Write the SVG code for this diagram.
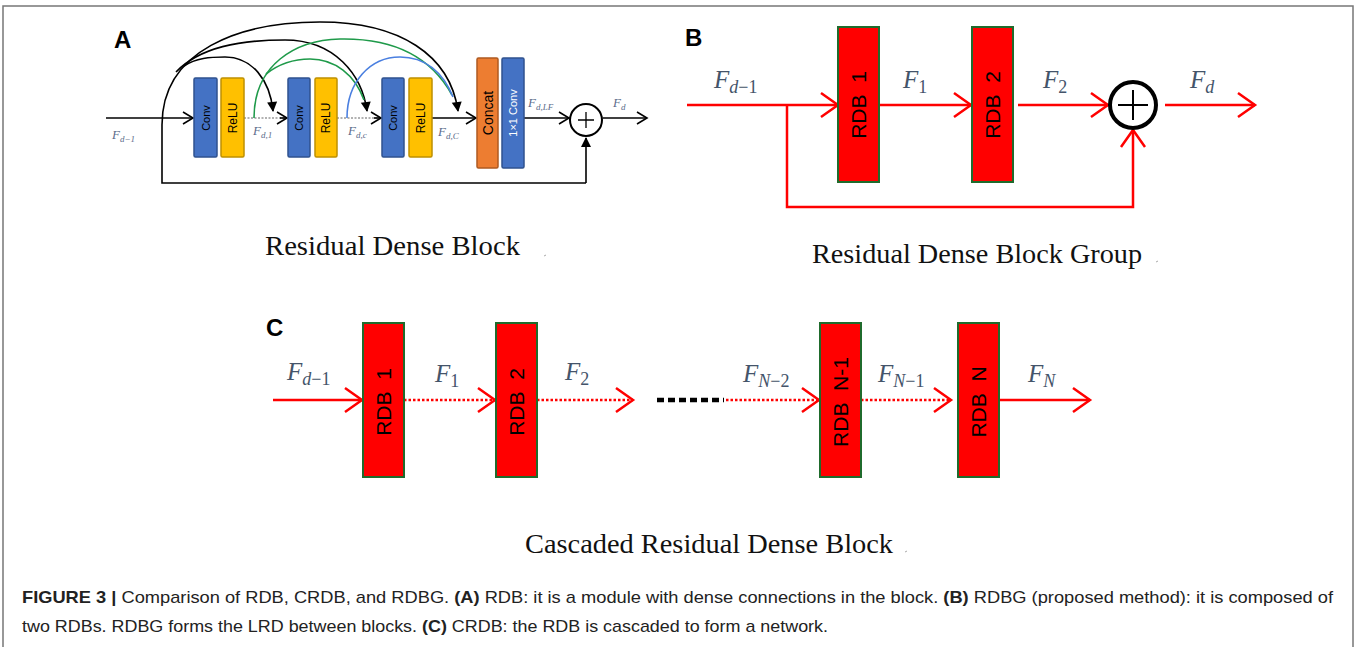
<svg xmlns="http://www.w3.org/2000/svg" width="1356" height="647" viewBox="0 0 1356 647">
<style>
.lbl{font-family:"Liberation Sans",Arial,sans-serif;font-weight:bold;font-size:24px;fill:#000}
.cap{font-family:"Liberation Serif","Times New Roman",serif;font-size:28px;fill:#111}
.m{font-family:"Liberation Serif","DejaVu Serif",serif;font-style:italic;fill:#44546A}
.ma{font-family:"Liberation Serif","DejaVu Serif",serif;font-style:italic;fill:#5b6b8a;font-size:13px}
.bx{font-family:"Liberation Sans",Arial,sans-serif;fill:#000}
.rdb{fill:#ff0000;stroke:#1f6b2c;stroke-width:2}
.rdbt{font-family:"Liberation Sans",Arial,sans-serif;font-size:21px;fill:#000;white-space:pre}
.conv{fill:#4472c4;stroke:#2f528f;stroke-width:1.5}
.relu{fill:#ffc000;stroke:#bf9000;stroke-width:1.5}
.concat{fill:#ed7d31;stroke:#ae5a21;stroke-width:1.5}
.k{fill:none;stroke:#000;stroke-width:1.6}
.red{fill:none;stroke:#ff0000;stroke-width:2.5}
.reddot{fill:none;stroke:#ff0000;stroke-width:2.5;stroke-dasharray:2.5 2}
.fc{font-family:"Liberation Sans",Arial,sans-serif;font-size:17px;fill:#222}
</style>
<defs>
<marker id="openK" markerUnits="userSpaceOnUse" markerWidth="12" markerHeight="14" refX="10" refY="6" orient="auto" overflow="visible">
<path d="M0,0 L10,6 L0,12" fill="none" stroke="#000" stroke-width="1.6"/>
</marker>
<marker id="triK" markerUnits="userSpaceOnUse" markerWidth="10" markerHeight="10" refX="9" refY="5" orient="auto" overflow="visible">
<path d="M0,0 L10,5 L0,10 Z" fill="#000"/>
</marker>
<marker id="openR" markerUnits="userSpaceOnUse" markerWidth="20" markerHeight="26" refX="17" refY="12" orient="auto" overflow="visible">
<path d="M0,0 L17,12 L0,24" fill="none" stroke="#ff0000" stroke-width="2.5"/>
</marker>
</defs>
<rect width="1356" height="647" fill="#fff"/>
<path d="M3,647 L3,6 L1353,6 L1353,647" fill="none" stroke="#777" stroke-width="1.5"/>

<!-- Panel labels -->
<text class="lbl" x="114" y="48">A</text>
<text class="lbl" x="685" y="46">B</text>
<text class="lbl" x="266" y="336">C</text>

<!-- Connectors -->
<g id="connectors">
<!-- Panel A -->
<line class="k" x1="106" y1="118" x2="193" y2="118" marker-end="url(#openK)"/>
<line x1="244" y1="118" x2="287" y2="118" stroke="#999" stroke-width="1.6" stroke-dasharray="2 1.5"/>
<line class="k" x1="280" y1="118" x2="287" y2="118" marker-end="url(#openK)"/>
<line x1="337" y1="118" x2="381" y2="118" stroke="#999" stroke-width="1.6" stroke-dasharray="2 1.5"/>
<line class="k" x1="374" y1="118" x2="381" y2="118" marker-end="url(#openK)"/>
<line class="k" x1="432" y1="118" x2="476" y2="118" marker-end="url(#openK)"/>
<line class="k" x1="524" y1="118" x2="569" y2="118" marker-end="url(#openK)"/>
<line class="k" x1="603" y1="118" x2="647" y2="118" marker-end="url(#openK)"/>
<path class="k" d="M586,183 L162,183 L162,125 C162,50 240,22 320,22 C400,22 450,55 458,111" marker-end="url(#triK)"/>
<path class="k" d="M586,183 L586,138" marker-end="url(#triK)"/>
<path class="k" d="M176,72 C200,47 240,40 285,40 C335,40 362,75 367,111" marker-end="url(#triK)"/>
<path class="k" d="M184,66 C196,58 210,57 225,57 C252,57 270,80 273,111" marker-end="url(#triK)"/>
<path fill="none" stroke="#1f9a4a" stroke-width="1.6" d="M254,118 C254,65 295,40 340,39 C390,38 430,55 452,95"/>
<path fill="none" stroke="#1f9a4a" stroke-width="1.6" d="M266,74 C280,63 295,59 310,59 C335,59 355,75 364,100"/>
<path fill="none" stroke="#4a7fe0" stroke-width="1.6" d="M347,118 C347,82 370,57 400,57 C425,57 443,72 453,97"/>

<!-- Panel B -->
<line class="red" x1="687" y1="105" x2="838" y2="105" marker-end="url(#openR)"/>
<line class="red" x1="879" y1="105" x2="971" y2="105" marker-end="url(#openR)"/>
<line class="red" x1="1018" y1="105" x2="1108" y2="105" marker-end="url(#openR)"/>
<line class="red" x1="1165" y1="105" x2="1255" y2="105" marker-end="url(#openR)"/>
<path class="red" d="M787,105 L787,207 L1133,207 L1133,130" marker-end="url(#openR)"/>

<!-- Panel C -->
<line class="red" x1="273" y1="400" x2="362" y2="400" marker-end="url(#openR)"/>
<line class="reddot" x1="404" y1="400" x2="495" y2="400" marker-end="url(#openR)"/>
<line class="reddot" x1="537" y1="400" x2="633" y2="400" marker-end="url(#openR)"/>
<line x1="657" y1="400" x2="724" y2="400" stroke="#000" stroke-width="4.5" stroke-dasharray="7 4"/>
<line class="reddot" x1="726" y1="400" x2="819" y2="400" marker-end="url(#openR)"/>
<line class="reddot" x1="861" y1="400" x2="951" y2="400" marker-end="url(#openR)"/>
<line class="red" x1="999" y1="400" x2="1090" y2="400" marker-end="url(#openR)"/>
</g>

<!-- Panel A nodes -->
<g id="a-conv1"><rect class="conv" x="194" y="78" width="23" height="79" rx="1.5"/><text class="bx" font-size="11" text-anchor="middle" dominant-baseline="central" transform="translate(205.5,118) rotate(-90)">Conv</text></g>
<g id="a-relu1"><rect class="relu" x="221" y="78" width="23" height="79" rx="1.5"/><text class="bx" font-size="12" text-anchor="middle" dominant-baseline="central" transform="translate(232.5,118) rotate(-90)">ReLU</text></g>
<g id="a-conv2"><rect class="conv" x="288" y="78" width="22" height="79" rx="1.5"/><text class="bx" font-size="11" text-anchor="middle" dominant-baseline="central" transform="translate(299,118) rotate(-90)">Conv</text></g>
<g id="a-relu2"><rect class="relu" x="315" y="78" width="22" height="79" rx="1.5"/><text class="bx" font-size="12" text-anchor="middle" dominant-baseline="central" transform="translate(326,118) rotate(-90)">ReLU</text></g>
<g id="a-conv3"><rect class="conv" x="382" y="78" width="22" height="79" rx="1.5"/><text class="bx" font-size="11" text-anchor="middle" dominant-baseline="central" transform="translate(393,118) rotate(-90)">Conv</text></g>
<g id="a-relu3"><rect class="relu" x="409" y="78" width="23" height="79" rx="1.5"/><text class="bx" font-size="12" text-anchor="middle" dominant-baseline="central" transform="translate(420.5,118) rotate(-90)">ReLU</text></g>
<g id="a-concat"><rect class="concat" x="477" y="58" width="21" height="110" rx="1.5"/><text class="bx" font-size="14" text-anchor="middle" dominant-baseline="central" transform="translate(487.5,113) rotate(-90)">Concat</text></g>
<g id="a-conv1x1"><rect class="conv" x="502" y="58" width="22" height="110" rx="1.5"/><text class="bx" font-size="11" style="fill:#fff" text-anchor="middle" dominant-baseline="central" transform="translate(513,113) rotate(-90)">1×1 Conv</text></g>
<g id="a-sum"><circle cx="586" cy="120" r="16" fill="#fff" stroke="#000" stroke-width="2"/><path d="M578,120 H594 M586,112 V128" stroke="#000" stroke-width="1.3"/></g>
<g id="a-labels">
<text class="ma" x="112" y="139">F<tspan font-size="9" dy="2.5">d−1</tspan></text>
<text class="ma" x="253" y="135">F<tspan font-size="9" dy="2.5">d,1</tspan></text>
<text class="ma" x="348" y="135">F<tspan font-size="9" dy="2.5">d,c</tspan></text>
<text class="ma" x="438" y="136">F<tspan font-size="9" dy="2.5">d,C</tspan></text>
<text class="ma" x="528" y="107">F<tspan font-size="9" dy="2.5">d,LF</tspan></text>
<text class="ma" x="613" y="107">F<tspan font-size="9" dy="2.5">d</tspan></text>
</g>
<g id="a-caption"><text class="cap" x="265" y="255" textLength="255" lengthAdjust="spacingAndGlyphs">Residual Dense Block</text><path d="M544,256 l2,-1" stroke="#aaa" stroke-width="1"/></g>

<!-- Panel B nodes -->
<g id="b-rdb1"><rect class="rdb" x="838" y="27" width="41" height="155"/><text class="rdbt" text-anchor="middle" dominant-baseline="central" transform="translate(858.5,105) rotate(-90)">RDB  1</text></g>
<g id="b-rdb2"><rect class="rdb" x="972" y="27" width="41" height="155"/><text class="rdbt" text-anchor="middle" dominant-baseline="central" transform="translate(992.5,105) rotate(-90)">RDB  2</text></g>
<g id="b-sum"><circle cx="1133" cy="105" r="23" fill="#fff" stroke="#000" stroke-width="4"/><path d="M1118,105 H1148 M1133,90 V120" stroke="#000" stroke-width="2"/></g>
<g id="b-labels">
<text class="m" font-size="25" x="714" y="88">F<tspan font-size="18" dy="5">d</tspan><tspan font-size="18" font-style="normal">−1</tspan></text>
<text class="m" font-size="25" x="903" y="88">F<tspan font-size="18" dy="5" font-style="normal">1</tspan></text>
<text class="m" font-size="25" x="1043" y="88">F<tspan font-size="18" dy="5" font-style="normal">2</tspan></text>
<text class="m" font-size="25" x="1190" y="88">F<tspan font-size="18" dy="5">d</tspan></text>
</g>
<g id="b-caption"><text class="cap" x="812" y="263" textLength="330" lengthAdjust="spacingAndGlyphs">Residual Dense Block Group</text><path d="M1156,262 l2,-1" stroke="#aaa" stroke-width="1"/></g>

<!-- Panel C nodes -->
<g id="c-rdb1"><rect class="rdb" x="363" y="323" width="41" height="154"/><text class="rdbt" text-anchor="middle" dominant-baseline="central" transform="translate(383.5,402) rotate(-90)">RDB  1</text></g>
<g id="c-rdb2"><rect class="rdb" x="496" y="323" width="41" height="154"/><text class="rdbt" text-anchor="middle" dominant-baseline="central" transform="translate(516.5,402) rotate(-90)">RDB  2</text></g>
<g id="c-rdbn1"><rect class="rdb" x="820" y="323" width="41" height="154"/><text class="rdbt" text-anchor="middle" dominant-baseline="central" transform="translate(840.5,402) rotate(-90)">RDB  N-1</text></g>
<g id="c-rdbn"><rect class="rdb" x="958" y="323" width="41" height="154"/><text class="rdbt" text-anchor="middle" dominant-baseline="central" transform="translate(978.5,402) rotate(-90)">RDB  N</text></g>
<g id="c-labels">
<text class="m" font-size="25" x="287" y="380">F<tspan font-size="18" dy="5">d</tspan><tspan font-size="18" font-style="normal">−1</tspan></text>
<text class="m" font-size="25" x="435" y="382">F<tspan font-size="18" dy="5" font-style="normal">1</tspan></text>
<text class="m" font-size="25" x="565" y="380">F<tspan font-size="18" dy="5" font-style="normal">2</tspan></text>
<text class="m" font-size="25" x="743" y="382">F<tspan font-size="18" dy="5">N</tspan><tspan font-size="18" font-style="normal">−2</tspan></text>
<text class="m" font-size="25" x="878" y="382">F<tspan font-size="18" dy="5">N</tspan><tspan font-size="18" font-style="normal">−1</tspan></text>
<text class="m" font-size="25" x="1028" y="382">F<tspan font-size="18" dy="5">N</tspan></text>
</g>
<g id="c-caption"><text class="cap" x="525" y="553" textLength="368" lengthAdjust="spacingAndGlyphs">Cascaded Residual Dense Block</text><path d="M905,552 l2,-1" stroke="#aaa" stroke-width="1"/></g>

<!-- Figure caption -->
<g id="figure-caption">
<text class="fc" x="22" y="603" textLength="1311" lengthAdjust="spacingAndGlyphs"><tspan font-weight="bold">FIGURE 3 |</tspan> Comparison of RDB, CRDB, and RDBG. <tspan font-weight="bold">(A)</tspan> RDB: it is a module with dense connections in the block. <tspan font-weight="bold">(B)</tspan> RDBG (proposed method): it is composed of</text>
<text class="fc" x="22" y="632" textLength="806" lengthAdjust="spacingAndGlyphs">two RDBs. RDBG forms the LRD between blocks. <tspan font-weight="bold">(C)</tspan> CRDB: the RDB is cascaded to form a network.</text>
</g>
</svg>
